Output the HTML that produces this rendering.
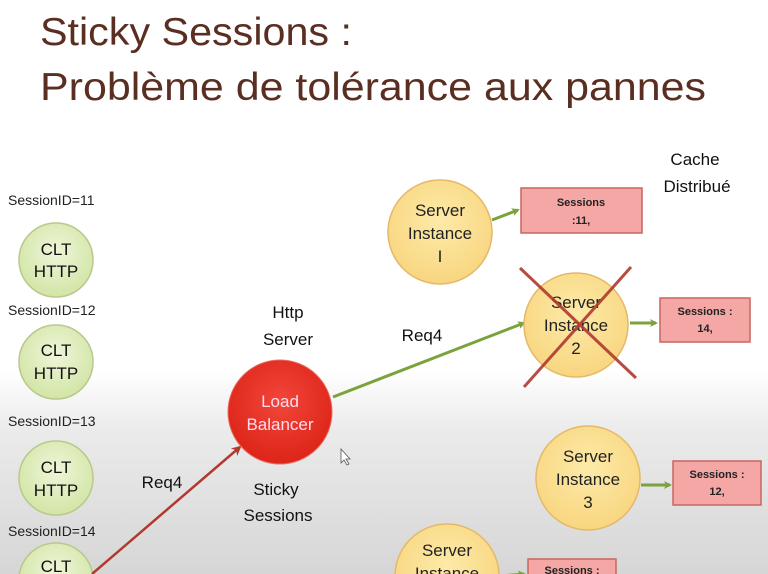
<!DOCTYPE html>
<html><head><meta charset="utf-8"><style>
html,body{margin:0;padding:0;width:768px;height:574px;overflow:hidden}
body{background:linear-gradient(to bottom,#fff 0,#fff 370px,#ebebeb 430px,#d6d6d6 574px);font-family:"Liberation Sans",sans-serif}
svg{display:block}
</style></head><body>
<svg width="768" height="574" viewBox="0 0 768 574" xmlns="http://www.w3.org/2000/svg" font-family="Liberation Sans, sans-serif">
<defs>
<radialGradient id="g" cx="50%" cy="40%" r="60%"><stop offset="0" stop-color="#eef5d8"/><stop offset="1" stop-color="#d2e5a6"/></radialGradient>
<radialGradient id="y" cx="50%" cy="40%" r="60%"><stop offset="0" stop-color="#fdeaa8"/><stop offset="1" stop-color="#f8d680"/></radialGradient>
<radialGradient id="r" cx="50%" cy="40%" r="60%"><stop offset="0" stop-color="#f2463a"/><stop offset="1" stop-color="#dd2418"/></radialGradient>
<marker id="ag" markerWidth="8" markerHeight="8" refX="6" refY="4" orient="auto" markerUnits="userSpaceOnUse"><path d="M0,0 L8,4 L0,8 L2,4z" fill="#7ba23c"/></marker>
<marker id="ar" markerWidth="10" markerHeight="10" refX="8" refY="5" orient="auto" markerUnits="userSpaceOnUse"><path d="M0,0 L10,5 L0,10 L3,5z" fill="#b03a2e"/></marker>
</defs>
<g fill="#5b2e22" font-size="39">
<text x="40" y="45" textLength="312" lengthAdjust="spacingAndGlyphs">Sticky Sessions :</text>
<text x="40" y="100" textLength="666" lengthAdjust="spacingAndGlyphs">Problème de tolérance aux pannes</text>
</g>
<g font-size="14" fill="#222">
<text x="8" y="205">SessionID=11</text>
<text x="8" y="315">SessionID=12</text>
<text x="8" y="426">SessionID=13</text>
<text x="8" y="536">SessionID=14</text>
</g>
<g stroke="#b8c98a" stroke-width="1.5" fill="url(#g)">
<circle cx="56" cy="260" r="37"/><circle cx="56" cy="362" r="37"/><circle cx="56" cy="478" r="37"/><circle cx="56" cy="580" r="37"/>
</g>
<g font-size="17" fill="#111" text-anchor="middle">
<text x="56" y="255">CLT</text><text x="56" y="277">HTTP</text>
<text x="56" y="356">CLT</text><text x="56" y="379">HTTP</text>
<text x="56" y="473">CLT</text><text x="56" y="496">HTTP</text>
<text x="56" y="572">CLT</text>
</g>
<line x1="92" y1="574" x2="240" y2="447" stroke="#b03a2e" stroke-width="2.5" marker-end="url(#ar)"/>
<line x1="333" y1="397" x2="524" y2="323" stroke="#7ba23c" stroke-width="3" marker-end="url(#ag)"/>
<circle cx="280" cy="412" r="52" fill="url(#r)" stroke="#e86a5e" stroke-width="1"/>
<g text-anchor="middle" font-size="17">
<text x="280" y="407" fill="#fde">Load</text><text x="280" y="430" fill="#fde">Balancer</text>
<text x="288" y="318" fill="#111">Http</text><text x="288" y="345" fill="#111">Server</text>
<text x="276" y="495" fill="#111">Sticky</text><text x="278" y="521" fill="#111">Sessions</text>
<text x="162" y="488" fill="#111">Req4</text>
<text x="422" y="341" fill="#111">Req4</text>
<text x="695" y="165" fill="#111">Cache</text><text x="697" y="192" fill="#111">Distribué</text>
</g>
<g stroke="#7ba23c" stroke-width="3" marker-end="url(#ag)">
<line x1="492" y1="220" x2="518" y2="210"/>
<line x1="630" y1="323" x2="656" y2="323"/>
<line x1="641" y1="485" x2="670" y2="485"/>
<line x1="500" y1="576" x2="524" y2="574"/>
</g>
<g stroke="#e5b868" stroke-width="1.5" fill="url(#y)">
<circle cx="440" cy="232" r="52"/><circle cx="576" cy="325" r="52"/><circle cx="588" cy="478" r="52"/><circle cx="447" cy="576" r="52"/>
</g>
<g font-size="17" fill="#222" text-anchor="middle">
<text x="440" y="216">Server</text><text x="440" y="239">Instance</text><text x="440" y="262">I</text>
<text x="576" y="308">Server</text><text x="576" y="331">Instance</text><text x="576" y="354">2</text>
<text x="588" y="462">Server</text><text x="588" y="485">Instance</text><text x="588" y="508">3</text>
<text x="447" y="556">Server</text><text x="447" y="579">Instance</text>
</g>
<g stroke="#b03a2e" stroke-width="3" opacity="0.9">
<line x1="520" y1="268" x2="636" y2="378"/><line x1="631" y1="267" x2="524" y2="387"/>
</g>
<g fill="#f4a7a4" stroke="#c9665f" stroke-width="1.5">
<rect x="521" y="188" width="121" height="45"/>
<rect x="660" y="298" width="90" height="44"/>
<rect x="673" y="461" width="88" height="44"/>
<rect x="528" y="559" width="88" height="30"/>
</g>
<g font-size="11" fill="#222" text-anchor="middle" font-weight="bold">
<text x="581" y="206">Sessions</text><text x="581" y="224">:11,</text>
<text x="705" y="315">Sessions :</text><text x="705" y="332">14,</text>
<text x="717" y="478">Sessions :</text><text x="717" y="495">12,</text>
<text x="572" y="574">Sessions :</text>
</g>
<path d="M341,449 l0,14 l3,-3 l3,5 l2,-1 l-3,-5 l4,0z" fill="#fff" stroke="#555" stroke-width="0.8"/>
</svg>
</body></html>
